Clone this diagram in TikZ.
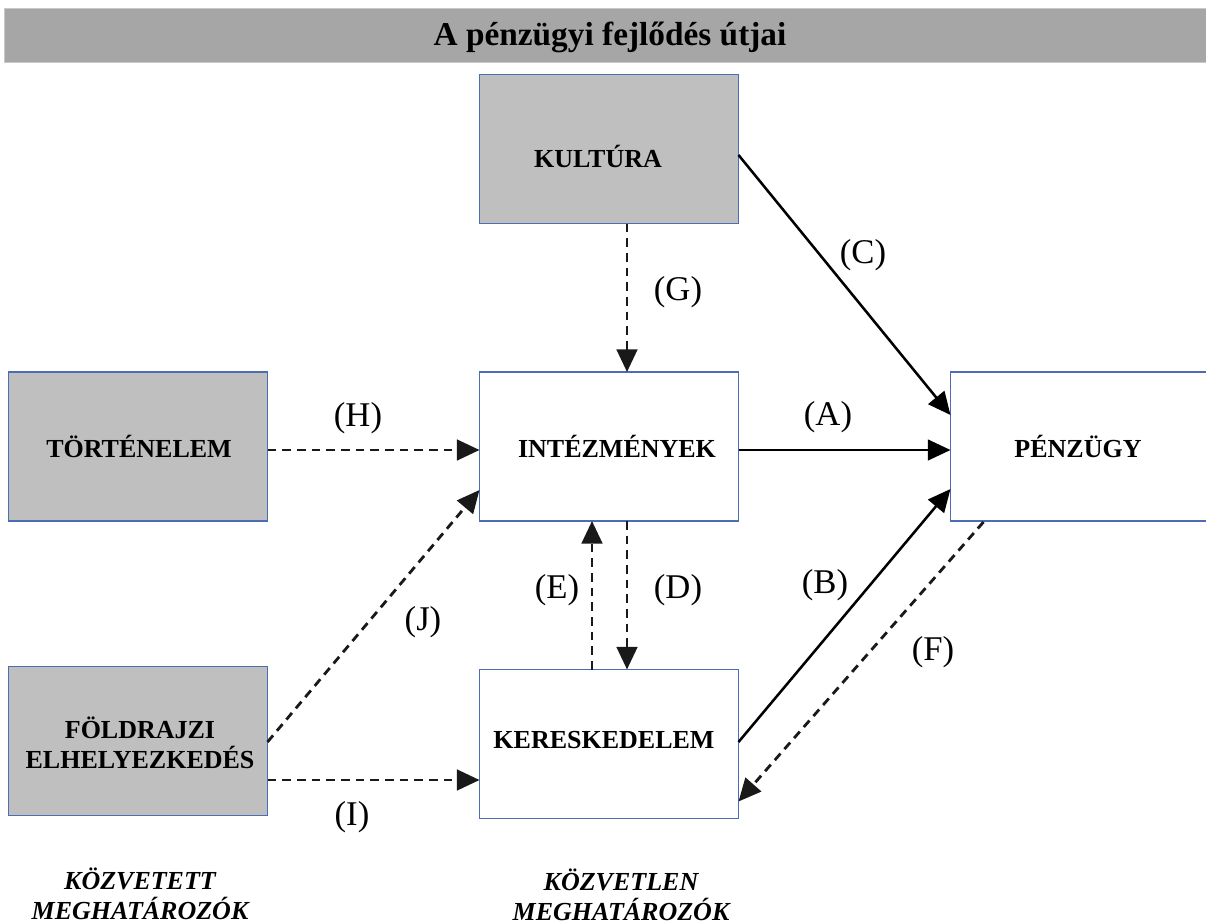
\documentclass[tikz,border=0pt]{standalone}
\usepackage{fontspec}
\setmainfont{Liberation Serif}
\usetikzlibrary{arrows.meta,calc}
\definecolor{titlegray}{HTML}{A6A6A6}
\definecolor{titleedge}{HTML}{C8C8C8}
\definecolor{boxgray}{HTML}{BFBFBF}
\definecolor{boxblue}{HTML}{4A6DB3}
\begin{document}
\begin{tikzpicture}[x=0.75pt,y=-0.75pt,
  box/.style={draw=boxblue,line width=0.8pt,minimum width=194.25pt,minimum height=111.75pt,inner sep=0pt,outer sep=0pt},
  grayfill/.style={fill=boxgray},
  lbl/.style={font=\fontsize{19.5}{22.5}\selectfont\bfseries,align=center,inner sep=0pt},
  note/.style={font=\fontsize{19.5}{22.5}\selectfont\bfseries\itshape,align=center,inner sep=0pt},
  tag/.style={font=\fontsize{26}{28}\selectfont,inner sep=0pt},
  tip/.style={-{Triangle[length=17pt,width=15.5pt]}},
  solidarrow/.style={tip,line width=1.9pt,black},
  dasharrow/.style={tip,line width=2.1pt,black!90,dash pattern=on 6.5pt off 4.5pt}
]
\useasboundingbox (0,0) rectangle (1206,924);
% title bar
\node[fill=titlegray,draw=titleedge,line width=0.8pt,minimum width=904.5pt,minimum height=40.5pt,inner sep=0pt,anchor=north west] (bar) at (4,8) {};
\node[font=\fontsize{25}{28}\selectfont\bfseries,inner sep=0pt] (title) at (610,37) {A pénzügyi fejlődés útjai};
% boxes
\node[box,grayfill] (kul) at (609,149) {};
\node[box,grayfill] (tor) at (138,446.5) {};
\node[box] (int) at (609,446.5) {};
\node[box] (pen) at (1080,446.5) {};
\node[box,grayfill] (fol) at (138,741) {};
\node[box] (ker) at (609,744) {};
% box texts
\node[lbl] (tkul) at (598,156) {KULTÚRA};
\node[lbl] (ttor) at (139,446) {TÖRTÉNELEM};
\node[lbl] (tint) at (617,446) {INTÉZMÉNYEK};
\node[lbl] (tpen) at (1078,446) {PÉNZÜGY};
\node[lbl] (tfol) at (140,743) {FÖLDRAJZI\\ELHELYEZKEDÉS};
\node[lbl] (tker) at (604,740) {KERESKEDELEM};
% bottom notes
\node[note] (n1) at (140,894) {KÖZVETETT\\MEGHATÁROZÓK};
\node[note] (n2) at (621,895) {KÖZVETLEN\\MEGHATÁROZÓK};
% connectors
\draw[solidarrow] ($(kul.east)+(0,6)$) -- ($(pen.west)+(0,-31.5)$);
\draw[dasharrow] ($(kul.south)+(18,0)$) -- ($(int.north)+(18,0)$);
\draw[dasharrow] ($(tor.east)+(0,3.5)$) -- ($(int.west)+(0,3.5)$);
\draw[solidarrow] ($(int.east)+(0,3.5)$) -- ($(pen.west)+(0,3.5)$);
\draw[dasharrow] ($(fol.east)+(0,1)$) -- ($(int.south west)+(0,-31)$);
\draw[dasharrow] ($(fol.east)+(0,39)$) -- ($(ker.west)+(0,36)$);
\draw[dasharrow] ($(ker.north)+(-17,0)$) -- ($(int.south)+(-17,0)$);
\draw[dasharrow] ($(int.south)+(18,0)$) -- ($(ker.north)+(18,0)$);
\draw[solidarrow] ($(ker.east)+(0,-2)$) -- ($(pen.south west)+(0,-32)$);
\draw[dasharrow] ($(pen.south west)+(33,1)$) -- ($(ker.south east)+(0,-17)$);
% tags
\node[tag] (lc) at (863,255) {(C)};
\node[tag] (lg) at (678,292) {(G)};
\node[tag] (lh) at (358,418) {(H)};
\node[tag] (la) at (828,417) {(A)};
\node[tag] (lj) at (423,622) {(J)};
\node[tag] (le) at (557,590) {(E)};
\node[tag] (ld) at (678,590) {(D)};
\node[tag] (lb) at (825,585) {(B)};
\node[tag] (lf) at (933,652) {(F)};
\node[tag] (li) at (352,817) {(I)};
\end{tikzpicture}
\end{document}
